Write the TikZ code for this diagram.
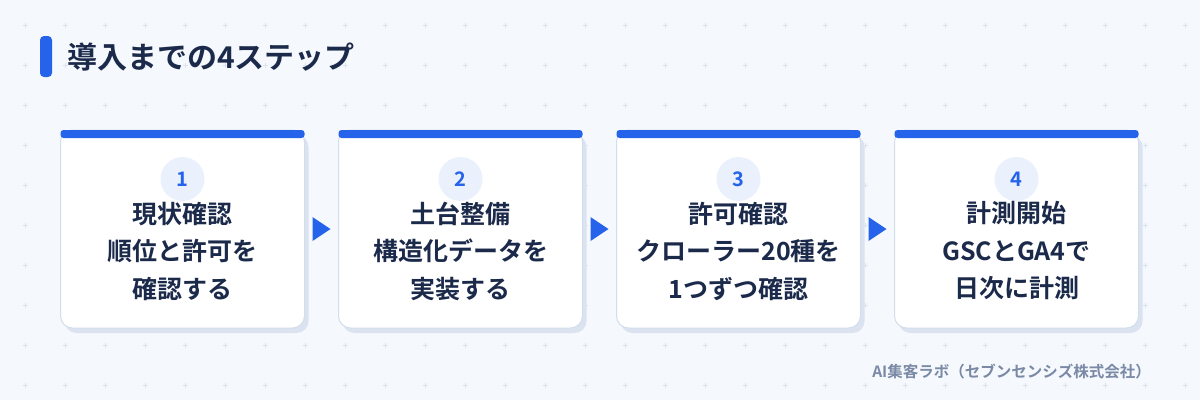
\documentclass[tikz,border=0pt]{standalone}
\usepackage{fontspec}
\setmainfont{Noto Sans CJK JP}[BoldFont={Noto Sans CJK JP Bold}]
\usetikzlibrary{calc}
\definecolor{bg}{HTML}{F5F8FC}
\definecolor{gridc}{HTML}{DCE3EE}
\definecolor{navy}{HTML}{1B2A4A}
\definecolor{accent}{HTML}{2563EB}
\definecolor{circfill}{HTML}{EAF1FD}
\definecolor{cardline}{HTML}{D3DEEC}
\definecolor{shadowc}{HTML}{DAE3EF}
\definecolor{footc}{HTML}{7A8AA6}
\tikzset{
  cardbox/.style={draw=cardline, line width=1pt, fill=white, rounded corners=12pt,
    minimum width=244pt, minimum height=198pt, inner sep=0pt},
  shadowbox/.style={fill=shadowc, rounded corners=12pt,
    minimum width=244pt, minimum height=198pt, inner sep=0pt},
  topbar/.style={fill=accent, rounded corners=3pt, minimum width=244pt, minimum height=8pt, inner sep=0pt},
  numcirc/.style={circle, fill=circfill, minimum size=44pt, inner sep=0pt,
    text=accent, font=\bfseries\fontsize{20pt}{22pt}\selectfont},
  cardtext/.style={align=center, text=navy, inner sep=0pt,
    font=\bfseries\fontsize{25pt}{37.5pt}\selectfont},
  tri/.style={fill=accent},
}
\begin{document}
\begin{tikzpicture}[x=1pt,y=-1pt]
\fill[bg] (0,0) rectangle (1200,400);
\useasboundingbox (0,0) rectangle (1200,400);
% grid of small crosses
\foreach \i in {0,...,29}{
  \foreach \j in {0,...,9}{
    \draw[gridc, line width=0.8pt] ({25+40*\i-2.5},{25+40*\j}) -- ({25+40*\i+2.5},{25+40*\j})
      ({25+40*\i},{25+40*\j-2.5}) -- ({25+40*\i},{25+40*\j+2.5});
  }
}
% title
\fill[accent, rounded corners=4pt] (40,36) rectangle (52,77);
\node[anchor=west, text=navy, inner sep=0pt, font=\bfseries\fontsize{30pt}{32pt}\selectfont] (title) at (67,57) {導入までの4ステップ};
% cards
\foreach \n/\cx/\ta/\tb/\tc in {
  1/182.5/現状確認/順位と許可を/確認する,
  2/460.5/土台整備/構造化データを/実装する,
  3/738.5/許可確認/クローラー20種を/1つずつ確認,
  4/1016.5/計測開始/GSCとGA4で/日次に計測}{
  \node[shadowbox] (s\n) at ({\cx+4},{234}) {};
  \node[cardbox] (c\n) at (\cx,229) {};
  \node[topbar] (b\n) at (\cx,134) {};
  \node[numcirc] (n\n) at (\cx,179) {\n};
  \node[cardtext] (t\n) at (\cx,251) {\ta\\\tb\\\tc};
}
% arrow triangles between cards
\foreach \a/\b in {1/2,2/3,3/4}{
  \coordinate (m\a) at ($(c\a.east)!0.5!(c\b.west)$);
  \fill[tri] ($(m\a)+(-9,-12)$) -- ($(m\a)+(9,0)$) -- ($(m\a)+(-9,12)$) -- cycle;
}
% footer
\node[anchor=east, text=footc, inner sep=0pt, font=\bfseries\fontsize{15.5pt}{17pt}\selectfont] (foot) at (1151,372) {AI集客ラボ（セブンセンシズ株式会社）};
\end{tikzpicture}
\end{document}
